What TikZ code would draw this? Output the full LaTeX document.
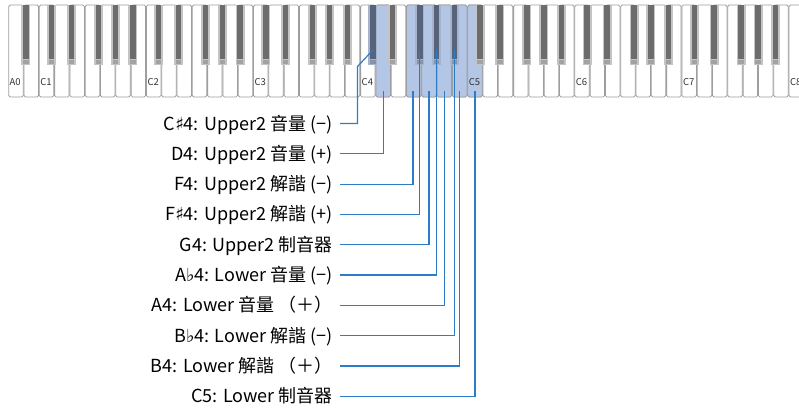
\documentclass[tikz,border=0pt]{standalone}
\usepackage{fontspec}
\setmainfont{Noto Sans CJK TC}
\newfontfamily\musicfont{DejaVu Sans}
\newcommand\shp{{\musicfont ♯}}
\newcommand\flt{{\musicfont ♭}}
\definecolor{keyline}{HTML}{9E9E9E}
\definecolor{blackrim}{HTML}{C4C4C4}
\definecolor{blackbody}{HTML}{6C6C6C}
\definecolor{blackcap}{HTML}{A2A2A2}
\definecolor{hlwhite}{HTML}{B4C6E6}
\definecolor{hlrim}{HTML}{A6B4CB}
\definecolor{hlbody}{HTML}{56637A}
\definecolor{hlcap}{HTML}{8592AA}
\definecolor{leadblue}{HTML}{2A7DC6}
\tikzset{
  whitekey/.style={draw=keyline, line width=0.8pt, fill=white, rounded corners=1.5pt},
  hlkey/.style={whitekey, fill=hlwhite},
  keylabel/.style={font=\fontsize{9.5}{10}\selectfont, text=black!80, inner sep=0pt, anchor=base west},
  funclabel/.style={font=\fontsize{18}{20}\selectfont, text=black, inner sep=0pt,
    text height=13pt, text depth=0pt, anchor=east},
  leader/.style={draw=leadblue, line width=1.2pt}
}
% white key width and left edge of A0
\def\ww{15.3}
\def\wo{8.3}
% black key: rim, body, front cap
\newcommand\blackkey[4]{%
  \fill[#1] ({#4-4.5},5) rectangle ({#4+4.5},65);
  \fill[#2] ({#4-2.7},5) rectangle ({#4+2.7},59);
  \fill[#3] ({#4-2.7},60.2) rectangle ({#4+2.7},64);
}
\begin{document}
\begin{tikzpicture}[x=1pt, y=-1pt]
  \useasboundingbox (0,0) rectangle (799,409);
  \clip (0,0) rectangle (799,409);
  % white keys A0 .. C8
  \foreach \i in {0,...,51}
    \draw[whitekey] ({\wo+\ww*\i+0.4},5) rectangle ({\wo+\ww*(\i+1)-0.4},97);
  % D4, F4 .. C5 selected
  \foreach \i in {24,26,27,28,29,30}
    \draw[hlkey] ({\wo+\ww*\i+0.4},5) rectangle ({\wo+\ww*(\i+1)-0.4},97);
  % black keys, offset from the boundary after white key \i
  \foreach \i in {0,...,50} {
    \pgfmathtruncatemacro\m{mod(\i,7)}
    \ifcase\m \def\off{0.15}\or \def\off{x}\or \def\off{-0.17}\or \def\off{0.13}%
      \or \def\off{x}\or \def\off{-0.1}\or \def\off{0}\fi
    \if x\off\else
      \pgfmathsetmacro\bx{\wo+\ww*(\i+1+\off)}
      \blackkey{blackrim}{blackbody}{blackcap}{\bx}
    \fi
  }
  % C#4, F#4, G#4, A#4 selected
  \foreach \i/\off in {23/-0.17,26/-0.1,27/0,28/0.15} {
    \pgfmathsetmacro\bx{\wo+\ww*(\i+1+\off)}
    \blackkey{hlrim}{hlbody}{hlcap}{\bx}
  }
  % octave labels
  \node[keylabel] (octA0) at ({\wo+1.2},86) {A0};
  \foreach \n in {1,...,8}
    \node[keylabel] (octC\n) at ({\wo+\ww*(7*\n-5)+1.3},86) {C\n};
  % anchor points on the keys
  \coordinate (kCs4) at ({\wo+\ww*(24-0.17)},50);
  \coordinate (kCs4bend) at (357.5,66.5);
  \coordinate (kD4) at ({\wo+\ww*24.5},91);
  \coordinate (kF4) at ({\wo+\ww*26.45},91);
  \coordinate (kFs4) at ({\wo+\ww*(27-0.1)},50);
  \coordinate (kG4) at ({\wo+\ww*27.5},91);
  \coordinate (kGs4) at ({\wo+\ww*28},50);
  \coordinate (kA4) at ({\wo+\ww*28.5},91);
  \coordinate (kAs4) at ({\wo+\ww*(29+0.15)},50);
  \coordinate (kB4) at ({\wo+\ww*29.5},91);
  \coordinate (kC5) at ({\wo+\ww*30.5},91);
  % function labels
  \node[funclabel] (lCs4) at (333,123.5) {C\shp4: Upper2 音量 (−)};
  \node[funclabel] (lD4)  at (333,153.8) {D4: Upper2 音量 (+)};
  \node[funclabel] (lF4)  at (333,184.1) {F4: Upper2 解諧 (−)};
  \node[funclabel] (lFs4) at (333,214.4) {F\shp4: Upper2 解諧 (+)};
  \node[funclabel] (lG4)  at (333,244.7) {G4: Upper2 制音器};
  \node[funclabel] (lGs4) at (333,275.0) {A\flt4: Lower 音量 (−)};
  \node[funclabel] (lA4)  at (333,305.3) {A4: Lower 音量 （＋）};
  \node[funclabel] (lAs4) at (333,335.6) {B\flt4: Lower 解諧 (−)};
  \node[funclabel] (lB4)  at (333,365.9) {B4: Lower 解諧 （＋）};
  \node[funclabel] (lC5)  at (333,396.2) {C5: Lower 制音器};
  % leaders
  \draw[leader] ([xshift=7pt]lCs4.east) -| (kCs4bend) -- (kCs4);
  \foreach \k in {D4,F4,Fs4,G4,Gs4,A4,As4,B4,C5}
    \draw[leader] ([xshift=7pt]l\k.east) -| (k\k);
\end{tikzpicture}
\end{document}
